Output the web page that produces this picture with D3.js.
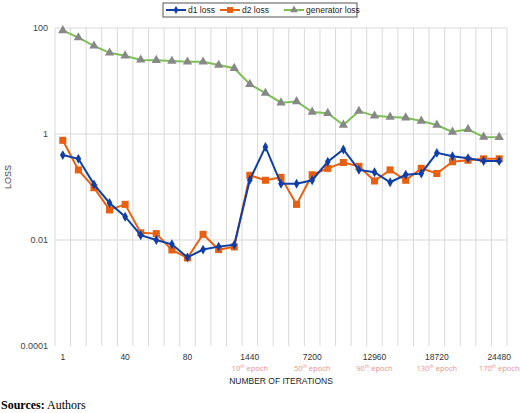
<!DOCTYPE html>
<html><head><meta charset="utf-8">
<script src="https://cdn.jsdelivr.net/npm/d3@7"></script>
<style>body{margin:0;background:#fff}</style></head>
<body><svg id="c" width="520" height="413"></svg>
<script>
const categories = ["1","","","","40","","","","80","","","","1440","","","","7200","","","","12960","","","","18720","","","","24480"];
const epochLabels = {12:"10",16:"50",20:"90",24:"130",28:"170"};
const d1 = [0.40,0.34,0.112,0.05,0.0275,0.0123,0.010,0.0083,0.0047,0.0066,0.0075,0.0081,0.136,0.57,0.115,0.115,0.134,0.30,0.51,0.21,0.19,0.123,0.17,0.18,0.44,0.38,0.35,0.31,0.31];
const d2 = [0.76,0.21,0.097,0.037,0.047,0.0137,0.0132,0.0065,0.0046,0.0128,0.0066,0.0074,0.166,0.134,0.152,0.047,0.17,0.225,0.29,0.245,0.13,0.21,0.134,0.225,0.18,0.30,0.32,0.34,0.34];
const gen = [90,66,46,34,30,25,24.6,23.8,23,23,20,17.4,8.7,5.9,3.9,4.1,2.6,2.46,1.48,2.7,2.2,2.1,2.03,1.76,1.48,1.09,1.23,0.88,0.87];
const yTicks = [100,1,0.01,0.0001];
const yTickLabels = ["100","1","0.01","0.0001"];

const svg = d3.select("#c");
const L=55,R=507,T=28,B=346;
const idx = d3.range(categories.length);
const x = d3.scaleBand().domain(idx).range([L,R]);
const y = d3.scaleLog().domain([1e-4,100]).range([B,T]);
const cx = i => x(i)+x.bandwidth()/2;

// vertical grid
svg.append("g").selectAll("line").data(d3.range(categories.length+1)).join("line")
  .attr("x1",i=>L+i*x.bandwidth()).attr("x2",i=>L+i*x.bandwidth())
  .attr("y1",T).attr("y2",B).attr("stroke","#d9d9d9").attr("stroke-width",1);
// horizontal grid
svg.append("g").selectAll("line").data(yTicks.slice(0,3)).join("line")
  .attr("x1",L).attr("x2",R).attr("y1",d=>y(d)).attr("y2",d=>y(d)).attr("stroke","#d9d9d9");
// y labels
svg.append("g").selectAll("text").data(yTicks).join("text")
  .attr("x",L-7).attr("y",d=>y(d)+3).attr("text-anchor","end")
  .attr("font-family","Liberation Sans, Arial").attr("font-size",9).attr("fill","#444")
  .text((d,i)=>yTickLabels[i]);
svg.append("text").attr("transform",`translate(11,${(T+B)/2-10}) rotate(-90)`)
  .attr("text-anchor","middle").attr("font-family","Liberation Sans, Arial").attr("font-size",9).attr("fill","#444").text("LOSS");
// x labels
svg.append("g").selectAll("text").data(idx.filter(i=>categories[i])).join("text")
  .attr("x",cx).attr("y",360).attr("text-anchor","middle")
  .attr("font-family","Liberation Sans, Arial").attr("font-size",8.5).attr("fill","#333")
  .text(i=>categories[i]);
const ep = svg.append("g").selectAll("text").data(Object.keys(epochLabels).map(Number)).join("text")
  .attr("x",cx).attr("y",371).attr("text-anchor","middle")
  .attr("font-family","Open Sans, DejaVu Sans").attr("font-size",7.5).attr("fill","#ec8f8f");
ep.append("tspan").text(i=>epochLabels[i]);
ep.append("tspan").attr("font-size",4.5).attr("dy",-3).text("th");
ep.append("tspan").attr("dy",3).text(" epoch");
svg.append("text").attr("x",(L+R)/2).attr("y",384).attr("text-anchor","middle")
  .attr("font-family","Liberation Sans, Arial").attr("font-size",8.5).attr("fill","#222").text("NUMBER OF ITERATIONS");
const s = svg.append("text").attr("x",1).attr("y",409).attr("font-family","Liberation Serif, Times New Roman").attr("font-size",12).attr("fill","#000");
s.append("tspan").attr("font-weight","bold").text("Sources:");
s.append("tspan").text(" Authors");

const line = d3.line().x((d,i)=>cx(i)).y(d=>y(d));
const series = [
  {name:"d1 loss",data:d1,color:"#0f3fa6",shape:d3.symbolDiamond,size:28,mfill:"#0f3fa6"},
  {name:"d2 loss",data:d2,color:"#e8600f",shape:d3.symbolSquare,size:50,mfill:"#e8600f"},
  {name:"generator loss",data:gen,color:"#7cbf55",shape:d3.symbolTriangle,size:38,mfill:"#888"}
];
// draw gen first then d2, d1 ordering
[series[2],series[1],series[0]].forEach(sr=>{
  svg.append("path").datum(sr.data).attr("d",line).attr("fill","none").attr("stroke",sr.color).attr("stroke-width",2);
  svg.append("g").selectAll("path").data(sr.data).join("path")
    .attr("transform",(d,i)=>`translate(${cx(i)},${y(d)})`)
    .attr("d",d3.symbol(sr.shape,sr.size)()).attr("fill",sr.mfill);
});
// legend
const lg = svg.append("g");
lg.append("rect").attr("x",163).attr("y",3).attr("width",194).attr("height",14).attr("fill","#fff").attr("stroke","#555");
const lx=[166,220,284], lw=[19,19,19];
series.forEach((sr,i)=>{
  lg.append("line").attr("x1",lx[i]).attr("x2",lx[i]+20).attr("y1",10).attr("y2",10).attr("stroke",sr.color).attr("stroke-width",2);
  lg.append("path").attr("transform",`translate(${lx[i]+10},10)`).attr("d",d3.symbol(sr.shape,sr.size*0.7)()).attr("fill",sr.mfill);
  lg.append("text").attr("x",lx[i]+22).attr("y",13).attr("font-family","Liberation Sans, Arial").attr("font-size",8.5).attr("fill","#222").text(sr.name);
});
</script></body></html>
